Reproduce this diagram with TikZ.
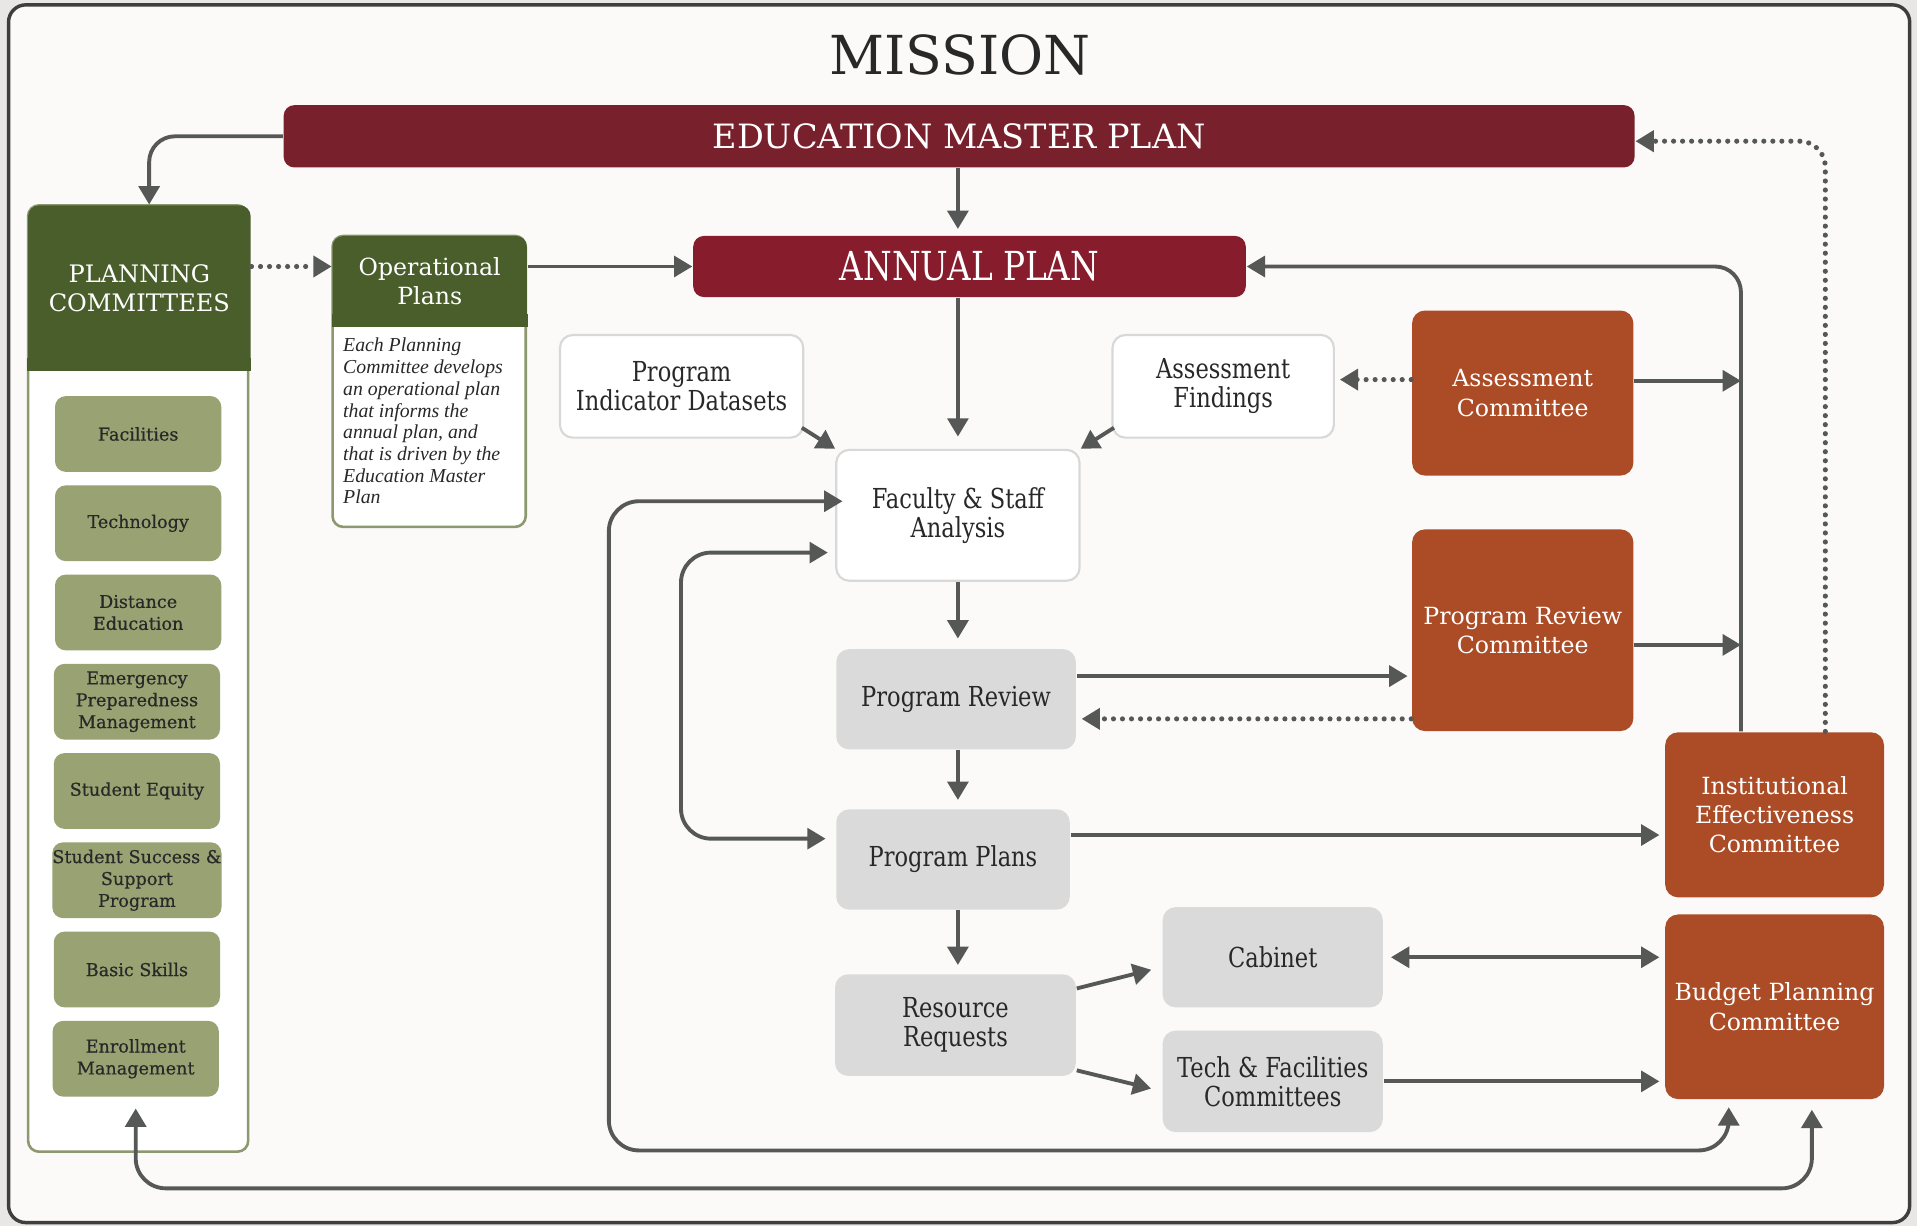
\documentclass[tikz,border=0pt]{standalone}
\usepackage{fontspec}
\setmainfont{DejaVu Serif}
\newfontfamily\condfont[FakeStretch=0.82]{DejaVu Serif}
\newfontfamily\areafont[FakeBold=0.5]{DejaVu Serif}
\newfontfamily\notefont{Liberation Serif}
\usetikzlibrary{arrows.meta,positioning,calc}

\definecolor{paper}{RGB}{251,250,249}
\definecolor{margin}{RGB}{232,231,229}
\definecolor{framecol}{RGB}{62,62,62}
\definecolor{planred}{RGB}{120,32,43}
\definecolor{annualred}{RGB}{135,28,44}
\definecolor{darkgreen}{RGB}{74,94,44}
\definecolor{sage}{RGB}{152,162,114}
\definecolor{sageline}{RGB}{140,152,110}
\definecolor{rust}{RGB}{172,76,38}
\definecolor{stepgray}{RGB}{218,218,218}
\definecolor{linegray}{RGB}{86,88,88}
\definecolor{inkgray}{RGB}{40,40,40}
\definecolor{rimgray}{RGB}{216,216,216}

\begin{document}
\begin{tikzpicture}[
  arrow/.style={-{Triangle[length=1.5mm,width=1.7mm]}, line width=0.9pt, draw=linegray},
  twoway/.style={{Triangle[length=1.5mm,width=1.7mm]}-{Triangle[length=1.5mm,width=1.7mm]}, line width=0.9pt, draw=linegray},
  dotline/.style={arrow, line width=1.2pt, line cap=round, dash pattern=on 0pt off 2.1pt},
  banner/.style={rounded corners=2.5pt, text=white, align=center, inner sep=0pt},
  greenhead/.style={fill=darkgreen, text=white, align=center, inner sep=0pt, rounded corners=2.5pt},
  committee/.style={rounded corners=3pt, fill=rust, text=white, align=center, inner sep=0pt, font=\fontsize{5.5}{6.8}\selectfont},
  stepbox/.style={rounded corners=3pt, fill=stepgray, text=inkgray, align=center, inner sep=0pt, font=\condfont\fontsize{6.4}{6.8}\selectfont},
  source/.style={stepbox, draw=rimgray, line width=0.5pt, fill=white},
  area/.style={rounded corners=2.5pt, fill=sage, text=inkgray, align=center, inner sep=0pt, minimum width=1.36cm, minimum height=0.62cm, font=\areafont\fontsize{4.1}{5.1}\selectfont}
]
  \useasboundingbox (0,0) rectangle (15.68,-10.03);
  \fill[margin] (0,0) rectangle (15.68,-10.03);
  \draw[framecol, line width=0.8pt, fill=paper, rounded corners=4pt] (0.07,-0.04) rectangle (15.62,-10.00);

  \node[text=inkgray, font=\fontsize{12.5}{14}\selectfont] (mission) at (7.85,-0.45) {MISSION};
  \node[banner, fill=planred, minimum width=11.05cm, minimum height=0.51cm, font=\fontsize{7.8}{9}\selectfont] (emp) at (7.845,-1.115) {EDUCATION MASTER PLAN};
  \node[banner, fill=annualred, minimum width=4.52cm, minimum height=0.50cm, font=\condfont\fontsize{9.3}{10}\selectfont] (annual) at (7.93,-2.18) {ANNUAL PLAN};

  % planning committees column
  \node[draw=sageline, line width=0.6pt, fill=white, rounded corners=2.5pt, minimum width=1.80cm, minimum height=7.74cm] (pcbox) at (1.13,-5.55) {};
  \node[greenhead, minimum width=1.82cm, minimum height=1.35cm, font=\fontsize{5.6}{6.8}\selectfont] (plan) at (1.14,-2.355) {PLANNING\\COMMITTEES};
  \fill[darkgreen] ([yshift=3pt]plan.south west) rectangle (plan.south east);
  \node[area] (facil) at (1.13,-3.55) {Facilities};
  \node[area] (tech) at (1.13,-4.28) {Technology};
  \node[area] (dist) at (1.13,-5.01) {Distance\\Education};
  \node[area] (emerg) at (1.12,-5.74) {Emergency\\Preparedness\\Management};
  \node[area] (equity) at (1.12,-6.47) {Student Equity};
  \node[area] (success) at (1.12,-7.20) {Student Success \&\\Support\\Program};
  \node[area] (basic) at (1.12,-7.93) {Basic Skills};
  \node[area] (enroll) at (1.11,-8.66) {Enrollment\\Management};

  % operational plans
  \node[draw=sageline, line width=0.6pt, fill=white, rounded corners=2.5pt, minimum width=1.58cm, minimum height=2.38cm] (operbox) at (3.51,-3.12) {};
  \node[greenhead, minimum width=1.59cm, minimum height=0.74cm, font=\fontsize{5.5}{6.8}\selectfont] (oper) at (3.515,-2.30) {Operational\\Plans};
  \fill[darkgreen] ([yshift=3pt]oper.south west) rectangle (oper.south east);
  \node[anchor=north west, align=left, inner sep=0pt, text=inkgray, font=\notefont\itshape\fontsize{4.6}{5.05}\selectfont] (note) at (2.80,-2.76) {Each Planning\\Committee develops\\an operational plan\\that informs the\\annual plan, and\\that is driven by the\\Education Master\\Plan};

  % analysis chain
  \node[source, minimum width=1.99cm, minimum height=0.84cm] (pid) at (5.575,-3.16) {Program\\Indicator Datasets};
  \node[source, minimum width=1.81cm, minimum height=0.84cm] (afind) at (10.005,-3.16) {Assessment\\Findings};
  \node[source, minimum width=1.99cm, minimum height=1.07cm] (fsa) at (7.835,-4.215) {Faculty \& Staff\\Analysis};
  \node[stepbox, minimum width=1.96cm, minimum height=0.82cm] (prev) at (7.82,-5.72) {Program Review};
  \node[stepbox, minimum width=1.91cm, minimum height=0.82cm] (pplans) at (7.795,-7.03) {Program Plans};
  \node[stepbox, minimum width=1.97cm, minimum height=0.83cm] (rreq) at (7.815,-8.385) {Resource\\Requests};
  \node[stepbox, minimum width=1.80cm, minimum height=0.82cm] (cab) at (10.41,-7.83) {Cabinet};
  \node[stepbox, minimum width=1.80cm, minimum height=0.83cm] (tfc) at (10.41,-8.845) {Tech \& Facilities\\Committees};

  % committees
  \node[committee, minimum width=1.81cm, minimum height=1.35cm] (acomm) at (12.455,-3.215) {Assessment\\Committee};
  \node[committee, minimum width=1.81cm, minimum height=1.65cm] (prc) at (12.455,-5.155) {Program Review\\Committee};
  \node[committee, minimum width=1.79cm, minimum height=1.35cm] (iec) at (14.515,-6.665) {Institutional\\Effectiveness\\Committee};
  \node[committee, minimum width=1.79cm, minimum height=1.51cm] (bpc) at (14.515,-8.235) {Budget Planning\\Committee};

  \coordinate (rail) at (14.24,-4);

  \draw[arrow, rounded corners=6pt] (emp.west) -| ([xshift=0.08cm]plan.north);
  \draw[arrow, shorten >=0.5mm] (emp.south -| fsa.north) -- (annual.north -| fsa.north);
  \draw[dotline] (plan.east |- annual.west) -- (oper.west |- annual.west);
  \draw[arrow] (oper.east |- annual.west) -- (annual.west);
  \draw[arrow, shorten >=1mm] (annual.south -| fsa.north) -- (fsa.north);
  \draw[arrow] ([xshift=-0.02cm,yshift=0.09cm]pid.south east) -- (fsa.north west);
  \draw[arrow] ([xshift=0.02cm,yshift=0.09cm]afind.south west) -- (fsa.north east);
  \draw[dotline, shorten >=0.4mm] ([yshift=0.11cm]acomm.west) -- ([yshift=0.11cm]acomm.west -| afind.east);
  \draw[arrow, rounded corners=6pt] (iec.north -| rail) |- (annual.east);
  \draw[arrow] ([yshift=0.1cm]acomm.east) -- ([yshift=0.1cm]acomm.east -| rail);
  \draw[arrow] ([yshift=-0.12cm]prc.east) -- ([yshift=-0.12cm]prc.east -| rail);
  \draw[dotline, rounded corners=6pt] ([xshift=0.415cm]iec.north) |- ([yshift=-0.04cm]emp.east);
  \draw[arrow, shorten >=0.8mm] (fsa.south) -- (fsa.south |- prev.north);
  \draw[arrow, shorten >=0.3mm] ([yshift=0.19cm]prev.east) -- ([yshift=0.19cm]prev.east -| prc.west);
  \draw[dotline, shorten >=0.4mm] ([yshift=-0.16cm]prev.east -| prc.west) -- ([yshift=-0.16cm]prev.east);
  \draw[arrow, shorten >=0.7mm] (prev.south -| fsa.south) -- (pplans.north -| fsa.south);
  \draw[arrow, shorten >=0.4mm] ([yshift=0.2cm]pplans.east) -- ([yshift=0.2cm]pplans.east -| iec.west);
  \draw[arrow, shorten >=0.7mm] (pplans.south -| fsa.south) -- (rreq.north -| fsa.south);
  \draw[arrow, shorten >=0.9mm] ([yshift=0.3cm]rreq.east) -- ([yshift=-0.08cm]cab.west);
  \draw[arrow, shorten >=0.9mm] ([yshift=-0.37cm]rreq.east) -- ([yshift=-0.08cm]tfc.west);
  \draw[twoway, shorten <=0.6mm, shorten >=0.4mm] (cab.east) -- (cab.east -| bpc.west);
  \draw[arrow, shorten >=0.4mm] (tfc.east) -- (tfc.east -| bpc.west);
  \draw[twoway, rounded corners=7pt, shorten <=0.6mm, shorten >=-0.6mm] ([xshift=-0.375cm]bpc.south) |- (4.98,-9.41) |- ([yshift=0.115cm]fsa.west);
  \draw[twoway, rounded corners=7pt, shorten <=0.6mm, shorten >=0.8mm] ([yshift=-0.305cm]fsa.west) -| (5.57,-5.5) |- ([yshift=0.17cm]pplans.west);
  \draw[twoway, rounded corners=7pt, shorten <=0.9mm, shorten >=0.8mm] (enroll.south) |- (14.82,-9.72) -- ([xshift=0.305cm]bpc.south);
\end{tikzpicture}
\end{document}
